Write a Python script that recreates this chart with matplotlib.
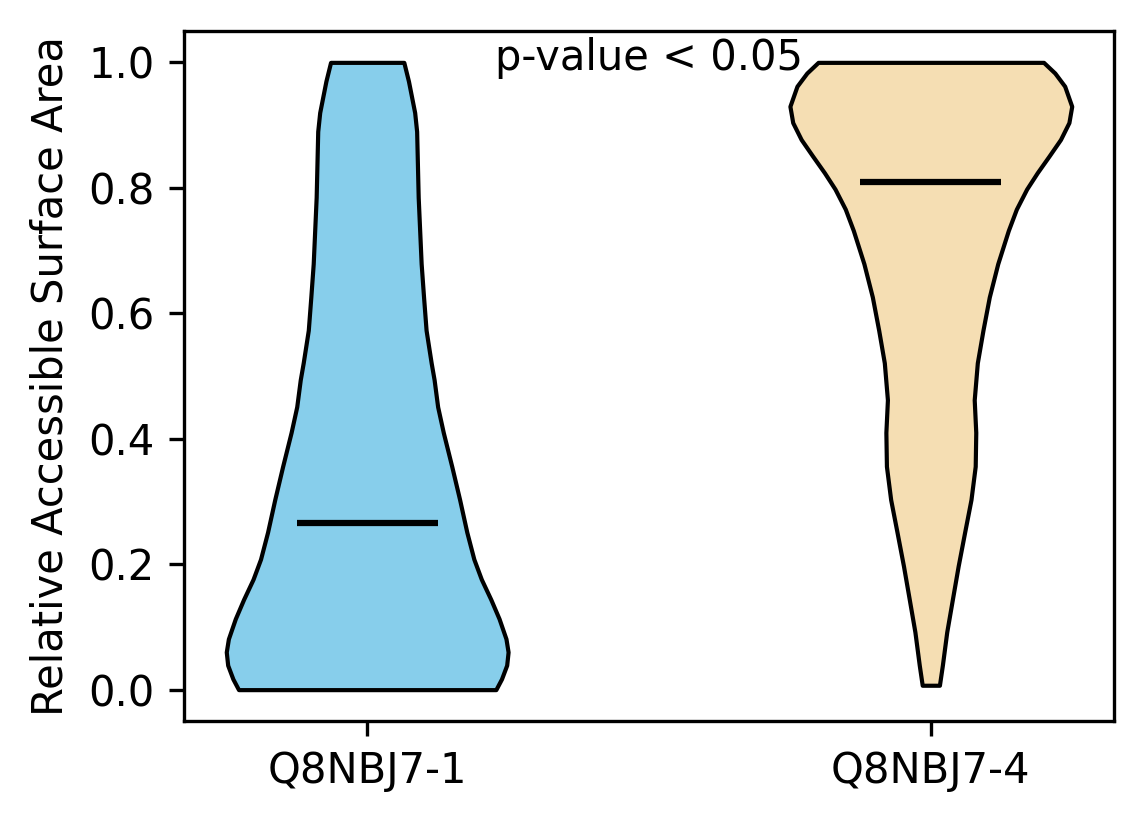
"""Violin plot of relative accessible surface area for two Q8NBJ7 isoforms."""

import matplotlib
matplotlib.use("Agg")
import matplotlib.pyplot as plt

LABELS = ["Q8NBJ7-1", "Q8NBJ7-4"]
COLORS = ["#87CEEB", "#F5DEB3"]

# density profiles (RSA value -> relative density)
LEFT_Y = [0.0, 0.017, 0.039, 0.060, 0.081, 0.113, 0.144, 0.176, 0.208, 0.251,
          0.303, 0.356, 0.410, 0.451, 0.494, 0.521, 0.573, 0.626, 0.679, 0.785,
          0.890, 0.920, 0.970, 1.0]
LEFT_DENS = [0.913, 0.953, 0.99, 1.0, 0.985, 0.936, 0.877, 0.81, 0.757, 0.707,
             0.656, 0.60, 0.54, 0.50, 0.475, 0.454, 0.418, 0.40, 0.383, 0.362,
             0.351, 0.337, 0.293, 0.26]
RIGHT_Y = [0.007, 0.039, 0.092, 0.144, 0.197, 0.251, 0.303, 0.356, 0.410, 0.462,
           0.521, 0.573, 0.626, 0.679, 0.732, 0.766, 0.798, 0.824, 0.851, 0.877,
           0.904, 0.930, 0.962, 0.983, 1.0]
RIGHT_DENS = [0.061, 0.082, 0.113, 0.153, 0.194, 0.24, 0.285, 0.315, 0.319, 0.308,
              0.33, 0.37, 0.415, 0.475, 0.55, 0.607, 0.68, 0.755, 0.84, 0.92,
              0.98, 1.0, 0.95, 0.88, 0.80]
MEANS = [0.265, 0.810]


def stats(ys, dens, mean):
    return {"coords": ys, "vals": dens, "mean": mean, "median": mean,
            "min": min(ys), "max": max(ys), "quantiles": []}


fig = plt.figure(figsize=(1144 / 300, 824 / 300), dpi=300)
ax = fig.add_axes([184 / 1144, 1 - 721 / 824, 930 / 1144, 690 / 824])

vp = ax.violin([stats(LEFT_Y, LEFT_DENS, MEANS[0]), stats(RIGHT_Y, RIGHT_DENS, MEANS[1])],
               positions=[1, 2], widths=0.5, showmeans=True, showextrema=False)
for body, c in zip(vp["bodies"], COLORS):
    body.set_facecolor(c)
    body.set_edgecolor("black")
    body.set_linewidth(1)
    body.set_alpha(1)
vp["cmeans"].set_color("black")
vp["cmeans"].set_linewidth(1.5)

ax.set_xticks([1, 2])
ax.set_xticklabels(LABELS, fontsize=10)
ax.tick_params(axis="y", labelsize=10)
ax.set_ylabel("Relative Accessible Surface Area", fontsize=10)
ax.text(1.5, 0.988, "p-value < 0.05", ha="center", va="baseline", fontsize=10)

fig.savefig("out.png", dpi=300)
